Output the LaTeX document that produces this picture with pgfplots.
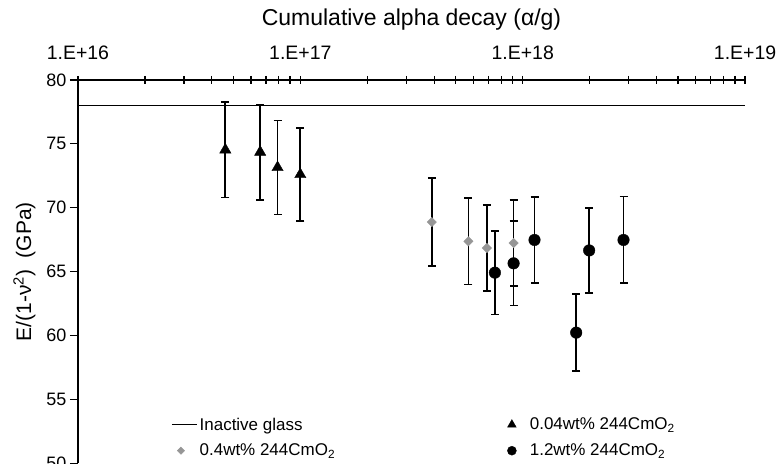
\documentclass[border=0pt]{standalone}
\usepackage{pgfplots}
\pgfplotsset{compat=1.18}
\usepackage{fontspec}
\setmainfont{Liberation Sans}
\definecolor{dgray}{RGB}{150,150,150}

\pgfplotsset{
  linelegend/.style={legend image code/.code={\draw[##1] (0pt,0pt) -- (25pt,0pt);}},
  marklegend/.style={legend image code/.code={\path[draw=none] (0pt,0pt) -- (25pt,0pt);
    \draw[##1, mark size=#1] plot[only marks] coordinates {(9pt,0pt)};}},
  ebars/.style={error bars/.cd, y dir=both, y explicit,
    error bar style={line width=1.8pt, black},
    error mark options={rotate=90, mark size=4pt, line width=1.6pt, black}},
}

\begin{document}
\begin{tikzpicture}
\begin{axis}[
  name=ax,
  scale only axis,
  width=668pt, height=384pt,
  xmode=log,
  xmin=1e16, xmax=1e19,
  ymin=50, ymax=80,
  axis x line=top,
  axis y line=left,
  axis line style={-, line width=1.3pt},
  xtick={1e16,1e17,1e18,1e19},
  xticklabels={1.E+16,1.E+17,1.E+18,1.E+19},
  minor xtick={2e16,3e16,4e16,5e16,6e16,7e16,8e16,9e16,
               2e17,3e17,4e17,5e17,6e17,7e17,8e17,9e17,
               2e18,3e18,4e18,5e18,6e18,7e18,8e18,9e18},
  ytick={50,55,...,80},
  xtick align=center,
  ytick align=outside,
  major tick length=8pt,
  minor tick length=8pt,
  tick style={line width=1.3pt, black},
  /pgf/number format/assume math mode=true,
  xticklabel style={font=\fontsize{19.5}{21}\selectfont},
  yticklabel style={font=\fontsize{18}{20}\selectfont},
  xticklabel shift={13pt},
  xlabel={Cumulative alpha decay (α/g)},
  xlabel style={font=\fontsize{23}{25}\selectfont, yshift=8pt},
  ylabel={E/(1-ν\textsuperscript{2})\ \ (GPa)},
  ylabel style={font=\fontsize{21}{23}\selectfont, yshift=4pt},
  legend columns=2,
  legend cell align=left,
  legend style={at={(0.138,0.13)}, anchor=north west, draw=none, fill=none,
    font=\fontsize{17}{19}\selectfont, row sep=8.5pt, inner xsep=1pt,
    /tikz/every even column/.append style={column sep=166pt}},
]
\addplot[black, line width=1.5pt, linelegend]
  coordinates {(1e16,78) (1e19,78)};
\addlegendentry{Inactive glass}

\addplot[only marks, black, mark=triangle*, mark size=6.5pt, marklegend=5pt, ebars]
coordinates {
  (4.6e16,74.53) +- (0,3.73)
  (6.6e16,74.35) +- (0,3.74)
  (7.9e16,73.15) +- (0,3.67)
  (1.0e17,72.6) +- (0,3.64)
};
\addlegendentry{0.04wt\% 244CmO\textsubscript{2}}

\addplot[only marks, dgray, mark=square*, mark size=3.3pt,
  mark options={fill=dgray, draw=dgray, rotate=45}, marklegend=2.6pt, ebars]
coordinates {
  (3.9e17,68.88) +- (0,3.44)
  (5.7e17,67.37) +- (0,3.37)
  (6.9e17,66.85) +- (0,3.37)
  (9.1e17,67.24) +- (0,3.36)
};
\addlegendentry{0.4wt\% 244CmO\textsubscript{2}}

\addplot[only marks, black, mark=*, mark size=5.8pt, marklegend=4.5pt, ebars]
coordinates {
  (7.5e17,64.92) +- (0,3.27)
  (9.1e17,65.65) +- (0,3.29)
  (1.13e18,67.48) +- (0,3.37)
  (1.74e18,60.23) +- (0,3.0)
  (1.99e18,66.66) +- (0,3.34)
  (2.84e18,67.48) +- (0,3.39)
};
\addlegendentry{1.2wt\% 244CmO\textsubscript{2}}
\end{axis}
\pgfresetboundingbox
\path ([xshift=-78pt]ax.south west) rectangle ([xshift=31pt,yshift=80pt]ax.north east);
\end{tikzpicture}
\end{document}
